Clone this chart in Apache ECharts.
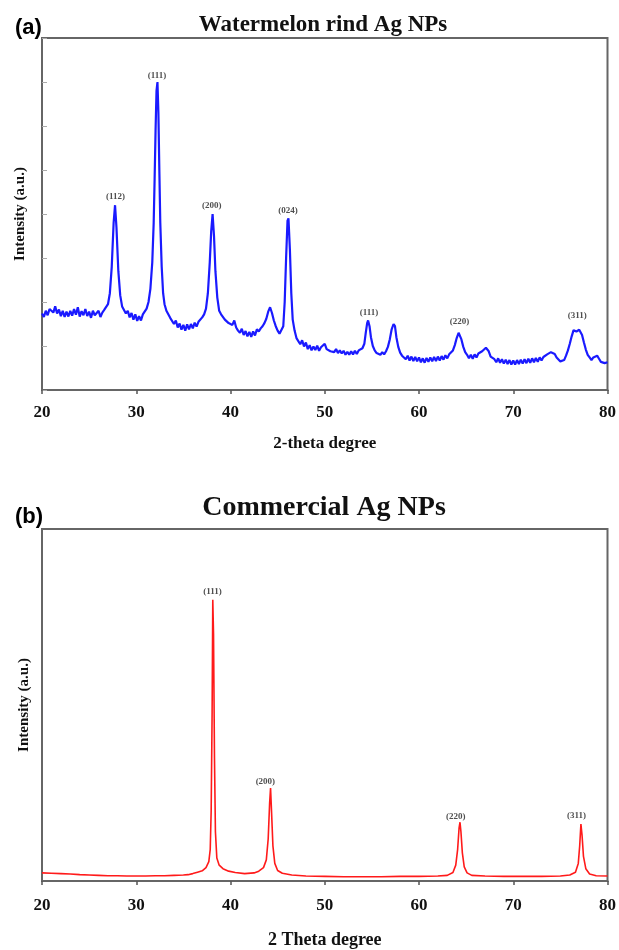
<!DOCTYPE html>
<html>
<head>
<meta charset="utf-8">
<script src="https://cdn.jsdelivr.net/npm/echarts@6/dist/echarts.min.js"></script>
<style>
  html, body { margin: 0; padding: 0; background: #fff; }
  #chart { width: 619px; height: 950px; }
</style>
</head>
<body>
<div id="chart"></div>
<script>
// (a) watermelon rind Ag NPs, [2theta, intensity]
var rindXrd = [
  [20.0, 1.74], [20.2, 1.66], [20.4, 1.80], [20.6, 1.70], [20.8, 1.84], [21.0, 1.88], [21.2, 1.76], [21.4, 1.90],
  [21.6, 1.74], [21.8, 1.83], [22.0, 1.68], [22.2, 1.80], [22.4, 1.66], [22.6, 1.78], [22.8, 1.67], [23.0, 1.80],
  [23.2, 1.69], [23.4, 1.84], [23.6, 1.71], [23.8, 1.88], [24.0, 1.67], [24.2, 1.79], [24.4, 1.70], [24.6, 1.84],
  [24.8, 1.68], [25.0, 1.78], [25.2, 1.64], [25.4, 1.80], [25.6, 1.70], [25.8, 1.66], [26.0, 1.80], [26.2, 1.66],
  [26.4, 1.76], [26.6, 1.82], [26.8, 1.85], [27.0, 1.95], [27.2, 2.2], [27.4, 2.8], [27.6, 3.8], [27.75, 4.2],
  [27.9, 3.7], [28.1, 2.7], [28.3, 2.15], [28.5, 1.9], [28.7, 1.82], [28.9, 1.74], [29.1, 1.80], [29.3, 1.65],
  [29.5, 1.75], [29.7, 1.60], [29.9, 1.72], [30.1, 1.57], [30.3, 1.68], [30.5, 1.58], [30.7, 1.72], [30.9, 1.74],
  [31.1, 1.85], [31.3, 2.0], [31.5, 2.3], [31.7, 2.9], [31.85, 3.8], [31.95, 4.8], [32.05, 5.9], [32.15, 6.8],
  [32.25, 7.0], [32.35, 6.3], [32.45, 5.0], [32.55, 3.8], [32.7, 2.8], [32.85, 2.2], [33.0, 1.95], [33.2, 1.8],
  [33.4, 1.72], [33.6, 1.64], [33.8, 1.62], [34.0, 1.50], [34.2, 1.58], [34.4, 1.42], [34.6, 1.51], [34.8, 1.37],
  [35.0, 1.48], [35.2, 1.35], [35.4, 1.49], [35.6, 1.38], [35.8, 1.50], [36.0, 1.40], [36.2, 1.53], [36.4, 1.44],
  [36.6, 1.55], [36.8, 1.58], [37.0, 1.65], [37.2, 1.72], [37.4, 1.85], [37.6, 2.2], [37.8, 2.9], [37.95, 3.6],
  [38.1, 4.0], [38.25, 3.5], [38.4, 2.7], [38.6, 2.1], [38.8, 1.8], [39.0, 1.72], [39.2, 1.68], [39.4, 1.60],
  [39.6, 1.58], [39.8, 1.52], [40.0, 1.50], [40.2, 1.48], [40.4, 1.58], [40.6, 1.42], [40.8, 1.35], [41.0, 1.30],
  [41.2, 1.39], [41.4, 1.25], [41.6, 1.34], [41.8, 1.22], [42.0, 1.32], [42.2, 1.21], [42.4, 1.33], [42.6, 1.24],
  [42.8, 1.38], [43.0, 1.33], [43.2, 1.40], [43.4, 1.45], [43.6, 1.52], [43.8, 1.62], [44.0, 1.78], [44.2, 1.88],
  [44.4, 1.75], [44.6, 1.58], [44.8, 1.45], [45.0, 1.35], [45.2, 1.28], [45.4, 1.30], [45.6, 1.45], [45.75, 2.0],
  [45.9, 3.0], [46.05, 3.85], [46.15, 3.9], [46.3, 3.2], [46.45, 2.2], [46.6, 1.6], [46.8, 1.35], [47.0, 1.18],
  [47.2, 1.14], [47.4, 1.04], [47.6, 1.13], [47.8, 0.99], [48.0, 1.08], [48.2, 0.93], [48.4, 1.02], [48.6, 0.90],
  [48.8, 0.99], [49.0, 0.91], [49.2, 1.01], [49.4, 0.89], [49.6, 0.97], [49.8, 0.95], [50.0, 1.05], [50.2, 0.93],
  [50.4, 0.96], [50.6, 0.88], [50.8, 0.92], [51.0, 0.86], [51.2, 0.93], [51.4, 0.84], [51.6, 0.90], [51.8, 0.83],
  [52.0, 0.89], [52.2, 0.80], [52.4, 0.87], [52.6, 0.80], [52.8, 0.88], [53.0, 0.81], [53.2, 0.89], [53.4, 0.82],
  [53.6, 0.90], [53.8, 0.86], [54.0, 0.95], [54.2, 1.05], [54.35, 1.3], [54.5, 1.52], [54.6, 1.58], [54.75, 1.45],
  [54.9, 1.2], [55.1, 1.0], [55.3, 0.9], [55.5, 0.84], [55.7, 0.88], [55.9, 0.80], [56.1, 0.86], [56.3, 0.81],
  [56.5, 0.88], [56.7, 0.98], [56.9, 1.15], [57.1, 1.38], [57.3, 1.50], [57.45, 1.45], [57.6, 1.2], [57.8, 0.98],
  [58.0, 0.85], [58.2, 0.78], [58.4, 0.76], [58.6, 0.70], [58.8, 0.78], [59.0, 0.67], [59.2, 0.76], [59.4, 0.66],
  [59.6, 0.75], [59.8, 0.65], [60.0, 0.74], [60.2, 0.63], [60.4, 0.72], [60.6, 0.62], [60.8, 0.73], [61.0, 0.64],
  [61.2, 0.74], [61.4, 0.65], [61.6, 0.75], [61.8, 0.66], [62.0, 0.76], [62.2, 0.67], [62.4, 0.77], [62.6, 0.69],
  [62.8, 0.79], [63.0, 0.72], [63.2, 0.81], [63.4, 0.82], [63.6, 0.90], [63.8, 1.02], [64.0, 1.18], [64.2, 1.30],
  [64.35, 1.28], [64.5, 1.15], [64.7, 0.98], [64.9, 0.86], [65.1, 0.80], [65.3, 0.72], [65.5, 0.80], [65.7, 0.71],
  [65.9, 0.81], [66.1, 0.74], [66.3, 0.83], [66.5, 0.80], [66.7, 0.88], [66.9, 0.92], [67.1, 0.96], [67.25, 0.95],
  [67.4, 0.88], [67.6, 0.76], [67.8, 0.72], [68.0, 0.70], [68.2, 0.63], [68.4, 0.72], [68.6, 0.62], [68.8, 0.70],
  [69.0, 0.60], [69.2, 0.69], [69.4, 0.59], [69.6, 0.68], [69.8, 0.58], [70.0, 0.67], [70.2, 0.58], [70.4, 0.68],
  [70.6, 0.59], [70.8, 0.69], [71.0, 0.60], [71.2, 0.70], [71.4, 0.61], [71.6, 0.71], [71.8, 0.62], [72.0, 0.72],
  [72.2, 0.63], [72.4, 0.73], [72.6, 0.64], [72.8, 0.74], [73.0, 0.67], [73.2, 0.75], [73.4, 0.73], [73.6, 0.81],
  [73.8, 0.79], [74.0, 0.86], [74.2, 0.85], [74.4, 0.82], [74.6, 0.74], [74.8, 0.73], [75.0, 0.65], [75.2, 0.69],
  [75.4, 0.68], [75.6, 0.78], [75.8, 0.90], [76.0, 1.05], [76.2, 1.22], [76.4, 1.36], [76.55, 1.40], [76.7, 1.33],
  [76.85, 1.30], [77.0, 1.37], [77.15, 1.38], [77.3, 1.25], [77.5, 1.08], [77.7, 0.92], [77.9, 0.80], [78.1, 0.74],
  [78.3, 0.68], [78.5, 0.74], [78.7, 0.70], [78.9, 0.78], [79.1, 0.71], [79.3, 0.64], [79.5, 0.67], [79.7, 0.61],
  [79.9, 0.65], [80.0, 0.63]
];

// (b) commercial Ag NPs
var commXrd = [
  [20, 2.3], [21, 2.2], [22, 2.1], [23, 2.0], [24, 1.8], [25, 1.7], [26, 1.6], [27, 1.5], [28, 1.5], [29, 1.4],
  [30, 1.4], [31, 1.4], [32, 1.5], [33, 1.5], [34, 1.6], [35, 1.7], [35.5, 1.8], [36, 2.1], [36.5, 2.5], [37, 2.9],
  [37.4, 3.8], [37.7, 5.5], [37.85, 9], [37.95, 20], [38.05, 48], [38.12, 79.9], [38.2, 70], [38.3, 35], [38.4, 14],
  [38.55, 6.5], [38.8, 4.5], [39.2, 3.5], [39.8, 2.8], [40.5, 2.4], [41.5, 2.1], [42.5, 2.3], [43.0, 2.8], [43.5, 3.8],
  [43.8, 6], [44.0, 12], [44.15, 22], [44.25, 26.4], [44.35, 20], [44.5, 10], [44.7, 5], [45.0, 3], [45.5, 2.2],
  [46.5, 1.7], [48, 1.4], [50, 1.3], [52, 1.2], [54, 1.2], [56, 1.2], [58, 1.3], [60, 1.3], [62, 1.4], [63, 1.6],
  [63.6, 2.4], [63.9, 4.5], [64.1, 9], [64.25, 15], [64.35, 16.7], [64.45, 14], [64.6, 8], [64.8, 4], [65.1, 2.3],
  [65.6, 1.6], [67, 1.4], [69, 1.3], [71, 1.3], [73, 1.3], [75, 1.4], [76, 1.7], [76.6, 2.5], [76.9, 5], [77.05, 10],
  [77.18, 16.2], [77.3, 13], [77.45, 7], [77.7, 3.5], [78.1, 2.0], [78.8, 1.5], [80, 1.4]
];

// peak labels [x, y, text]
var rindPeaks = [
  [27.8, 4.4, '(112)'], [32.2, 7.15, '(111)'], [38.0, 4.2, '(200)'], [46.1, 4.07, '(024)'],
  [54.7, 1.76, '(111)'], [64.3, 1.55, '(220)'], [76.8, 1.68, '(311)']
];
var commPeaks = [
  [38.1, 82.1, '(111)'], [43.7, 28.1, '(200)'], [63.9, 18.3, '(220)'], [76.7, 18.7, '(311)']
];

var serif = '"Liberation Serif", "DejaVu Serif", serif';
var sans = '"Liberation Sans", Arial, sans-serif';

function xAxisOf(grid, name, labelMargin, nameGap, nameSize) {
  return {
    type: 'value', gridIndex: grid, min: 20, max: 80, interval: 10,
    name: name, nameLocation: 'middle', nameGap: nameGap,
    nameTextStyle: { fontFamily: serif, fontWeight: 'bold', fontSize: nameSize, color: '#111' },
    axisLine: { show: true, onZero: false, lineStyle: { color: '#666', width: 2 } },
    axisTick: { show: true, length: 4, lineStyle: { color: '#555', width: 1.5 } },
    axisLabel: { margin: labelMargin, fontFamily: serif, fontWeight: 'bold', fontSize: 17, color: '#111' },
    splitLine: { show: false }
  };
}

function yAxisOf(grid, max, interval, showTicks, gap) {
  return {
    type: 'value', gridIndex: grid, min: 0, max: max, interval: interval,
    name: 'Intensity (a.u.)', nameLocation: 'middle', nameGap: gap,
    nameTextStyle: { fontFamily: serif, fontWeight: 'bold', fontSize: 15, color: '#111' },
    axisLine: { show: true, lineStyle: { color: '#666', width: 2 } },
    axisTick: { show: showTicks, inside: true, length: 5, lineStyle: { color: '#aaa' } },
    axisLabel: { show: false },
    splitLine: { show: false }
  };
}

function peakSeries(x, y, data) {
  return {
    type: 'scatter', xAxisIndex: x, yAxisIndex: y, data: data,
    symbolSize: 1, itemStyle: { color: 'rgba(0,0,0,0)' }, silent: true,
    label: {
      show: true, position: 'inside',
      formatter: function (p) { return p.data[2]; },
      fontFamily: serif, fontWeight: 'bold', fontSize: 9, color: '#222'
    }
  };
}

var chart = echarts.init(document.getElementById('chart'));
chart.setOption({
  animation: false,
  title: [
    { text: '(a)', left: 10, top: 12, textStyle: { fontFamily: sans, fontWeight: 'bold', fontSize: 22, color: '#000' } },
    { text: 'Watermelon rind Ag NPs', left: 318, top: 9, textAlign: 'center',
      textStyle: { fontFamily: serif, fontWeight: 'bold', fontSize: 23, color: '#111' } },
    { text: '(b)', left: 10, top: 501, textStyle: { fontFamily: sans, fontWeight: 'bold', fontSize: 22, color: '#000' } },
    { text: 'Commercial Ag NPs', left: 319, top: 489, textAlign: 'center',
      textStyle: { fontFamily: serif, fontWeight: 'bold', fontSize: 28, color: '#111' } }
  ],
  grid: [
    { left: 42, top: 38, width: 569, height: 352, show: true, borderColor: '#666', borderWidth: 2 },
    { left: 42, top: 529, width: 568, height: 356, show: true, borderColor: '#666', borderWidth: 2 }
  ],
  xAxis: [
    xAxisOf(0, '2-theta degree', 14, 45, 17),
    xAxisOf(1, '2 Theta degree', 16, 50, 18)
  ],
  yAxis: [
    yAxisOf(0, 8, 1, true, 14),
    yAxisOf(1, 100, 20, false, 10)
  ],
  series: [
    {
      type: 'line', xAxisIndex: 0, yAxisIndex: 0, data: rindXrd,
      showSymbol: false, lineStyle: { color: '#1a1aff', width: 2.2 }
    },
    {
      type: 'line', xAxisIndex: 1, yAxisIndex: 1, data: commXrd,
      showSymbol: false, lineStyle: { color: '#ff1a1a', width: 1.6 }
    },
    peakSeries(0, 0, rindPeaks),
    peakSeries(1, 1, commPeaks)
  ]
});
</script>
</body>
</html>
